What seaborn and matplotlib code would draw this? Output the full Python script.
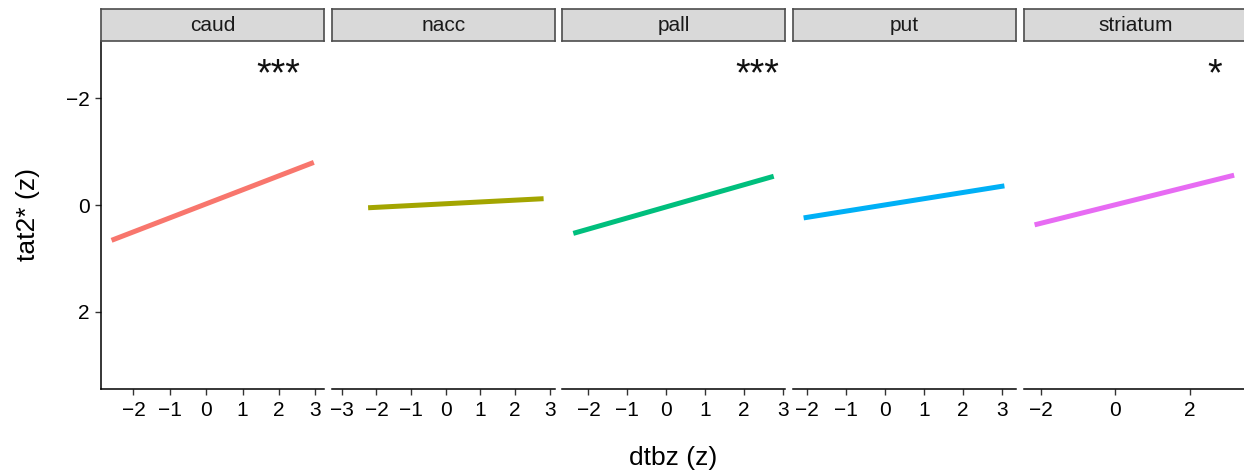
import numpy as np
import pandas as pd
import matplotlib
matplotlib.use("Agg")
import matplotlib.pyplot as plt
import seaborn as sns

# ---- data ----
regions = ["caud", "nacc", "pall", "put", "striatum"]
line_x_start = [-2.60, -2.24, -2.39, -2.08, -2.17]
line_x_end = [2.96, 2.82, 2.76, 3.07, 3.19]
line_y_start = [0.66, 0.05, 0.53, 0.24, 0.37]
line_y_end = [-0.80, -0.12, -0.54, -0.36, -0.56]
panel_xlim_lo = [-2.89, -3.29, -2.67, -2.35, -2.46]
panel_xlim_hi = [3.24, 3.14, 3.06, 3.37, 3.53]
x_ticks = [[-2, -1, 0, 1, 2, 3], [-3, -2, -1, 0, 1, 2, 3], [-2, -1, 0, 1, 2, 3],
           [-2, -1, 0, 1, 2, 3], [-2, 0, 2]]
y_ticks = [-2, 0, 2]
y_limits = [3.44, -3.08]   # reversed axis
signif = ["***", "", "***", "", "*"]
signif_xfrac = [0.794, 0.5, 0.874, 0.5, 0.857]
palette = ["#F8766D", "#A3A500", "#00BF7D", "#00B0F6", "#E76BF3"]

rows = []
for r, xs, xe, ys, ye in zip(regions, line_x_start, line_x_end, line_y_start, line_y_end):
    rows.append({"region": r, "dtbz": xs, "tat2": ys})
    rows.append({"region": r, "dtbz": xe, "tat2": ye})
df = pd.DataFrame(rows)

sns.set_theme(style="white")
plt.rcParams["font.family"] = ["Liberation Sans", "DejaVu Sans"]
plt.rcParams["axes.unicode_minus"] = True

W, H = 1244, 472
fig = plt.figure(figsize=(W / 100, H / 100), dpi=100)
left_px, panel_w, step_px = 101, 223, 230.7
top_px, bottom_px = 40.7, 388.7
axes = []
for i in range(5):
    x0 = left_px + i * step_px
    ax = fig.add_axes([x0 / W, 1 - bottom_px / H, panel_w / W, (bottom_px - top_px) / H])
    axes.append(ax)

for i, (ax, reg) in enumerate(zip(axes, regions)):
    sub = df[df["region"] == reg]
    sns.lineplot(data=sub, x="dtbz", y="tat2", ax=ax, color=palette[i],
                 linewidth=3.6, solid_capstyle="butt", legend=False)
    ax.set_xlim(panel_xlim_lo[i], panel_xlim_hi[i])
    ax.set_ylim(*y_limits)
    ax.set_xticks(x_ticks[i])
    ax.set_yticks(y_ticks)
    ax.set_xlabel("")
    ax.set_ylabel("")
    ax.set_facecolor("white")
    for s in ["top", "right"]:
        ax.spines[s].set_visible(False)
    ax.spines["bottom"].set_color("black")
    ax.spines["bottom"].set_linewidth(1.1)
    if i == 0:
        ax.spines["left"].set_color("black")
        ax.spines["left"].set_linewidth(1.1)
        ax.tick_params(axis="y", which="both", left=True, length=4, width=1,
                       color="#333333", labelsize=15, labelcolor="black", pad=4)
    else:
        ax.spines["left"].set_visible(False)
        ax.tick_params(axis="y", left=False, labelleft=False)
    ax.tick_params(axis="x", which="both", bottom=True, length=4, width=1,
                   color="#333333", labelsize=15, labelcolor="black", pad=4.5)
    if signif[i]:
        ax.text(signif_xfrac[i], 0.872, signif[i], transform=ax.transAxes,
                ha="center", va="baseline", fontsize=27, color="#111111")
    # strip
    pos = ax.get_position()
    sh = 32 / H
    sax = fig.add_axes([pos.x0, pos.y1, pos.width, sh])
    sax.set_facecolor("#D9D9D9")
    sax.set_xticks([])
    sax.set_yticks([])
    for s in sax.spines.values():
        s.set_color("#4D4D4D")
        s.set_linewidth(1.2)
    sax.text(0.5, 0.47, reg, ha="center", va="center", fontsize=15,
             color="#1A1A1A", transform=sax.transAxes)

fig.text((left_px + 1246) / 2 / W, 1 - 458 / H, "dtbz (z)", ha="center",
         va="center", fontsize=19, color="black")
fig.text(28 / W, 1 - 214.7 / H, "tat2* (z)", ha="center", va="center",
         rotation=90, fontsize=19, color="black")

fig.savefig("out.png", dpi=100, facecolor="white")
